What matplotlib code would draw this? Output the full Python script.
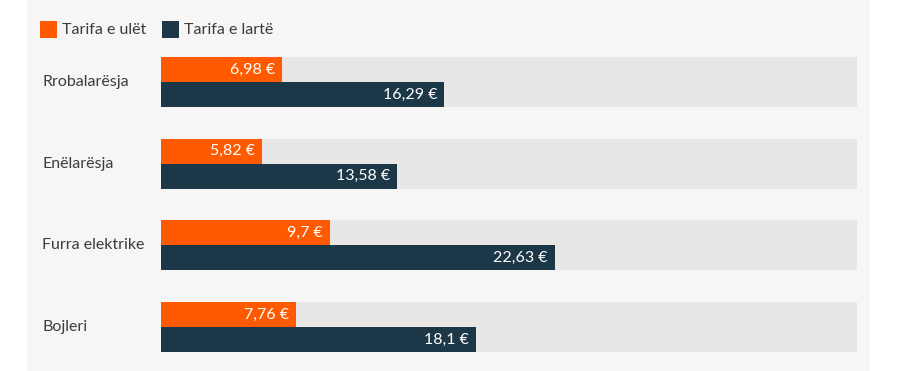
import matplotlib.pyplot as plt
import matplotlib.transforms as mtransforms
from matplotlib.patches import Rectangle

# data
categories = ['Rrobalarësja', 'Enëlarësja', 'Furra elektrike', 'Bojleri']
low_tariff = [6.98, 5.82, 9.7, 7.76]
high_tariff = [16.29, 13.58, 22.63, 18.1]
series_names = ['Tarifa e ulët', 'Tarifa e lartë']
track_max = 40

ORANGE = '#ff5a00'
DARK = '#1b3748'
TRACK = '#e8e7e5'
PANEL = '#f7f6f4'
TEXT = '#3c3c3c'
FS = 11.5

plt.rcParams['font.family'] = ['Lato', 'DejaVu Sans']

W, H = 900, 371
fig = plt.figure(figsize=(W / 100, H / 100), dpi=100, facecolor='white')

# light panel behind the chart
fig.patches.append(Rectangle((27 / W, 0), (870 - 27) / W, 1, transform=fig.transFigure,
                             facecolor=PANEL, edgecolor='none', zorder=-5))

ax = fig.add_axes([161 / W, (H - 352) / H, (857 - 161) / W, 295 / H])
ax.set_facecolor('none')
ax.set_zorder(2)
bh = 25 / 81.5
ax.set_xlim(0, track_max)
ax.set_ylim(len(categories) - 1 + bh, -bh)
ax.axis('off')

pos = list(range(len(categories)))
ax.barh(pos, [track_max] * len(pos), height=2 * bh, color=TRACK, align='center')
ax.barh([p - bh / 2 for p in pos], low_tariff, height=bh, color=ORANGE)
ax.barh([p + bh / 2 for p in pos], high_tariff, height=bh, color=DARK)

def fmt(v):
    return f'{v:g}'.replace('.', ',') + ' €'

pad = mtransforms.offset_copy(ax.transData, fig=fig, x=-7, y=0, units='dots')
for p, lo, hi in zip(pos, low_tariff, high_tariff):
    ax.text(lo, p - bh / 2, fmt(lo), transform=pad, ha='right', va='center',
            color='white', fontsize=FS)
    ax.text(hi, p + bh / 2, fmt(hi), transform=pad, ha='right', va='center',
            color='white', fontsize=FS)

# category labels
lab_tr = mtransforms.blended_transform_factory(fig.transFigure, ax.transData)
for p, name in zip(pos, categories):
    ax.text(42 / W, p, name, transform=lab_tr, ha='left', va='center',
            color=TEXT, fontsize=FS, clip_on=False)

# legend
for x0, col, name in [(40, ORANGE, series_names[0]), (162, DARK, series_names[1])]:
    fig.patches.append(Rectangle((x0 / W, (H - 38) / H), 17 / W, 17 / H,
                                 transform=fig.transFigure, facecolor=col,
                                 edgecolor='none', zorder=1))
    fig.text((x0 + 22) / W, (H - 29.5) / H, name, ha='left', va='center',
             color=TEXT, fontsize=FS)

fig.savefig('out.png', dpi=100, facecolor='white')
